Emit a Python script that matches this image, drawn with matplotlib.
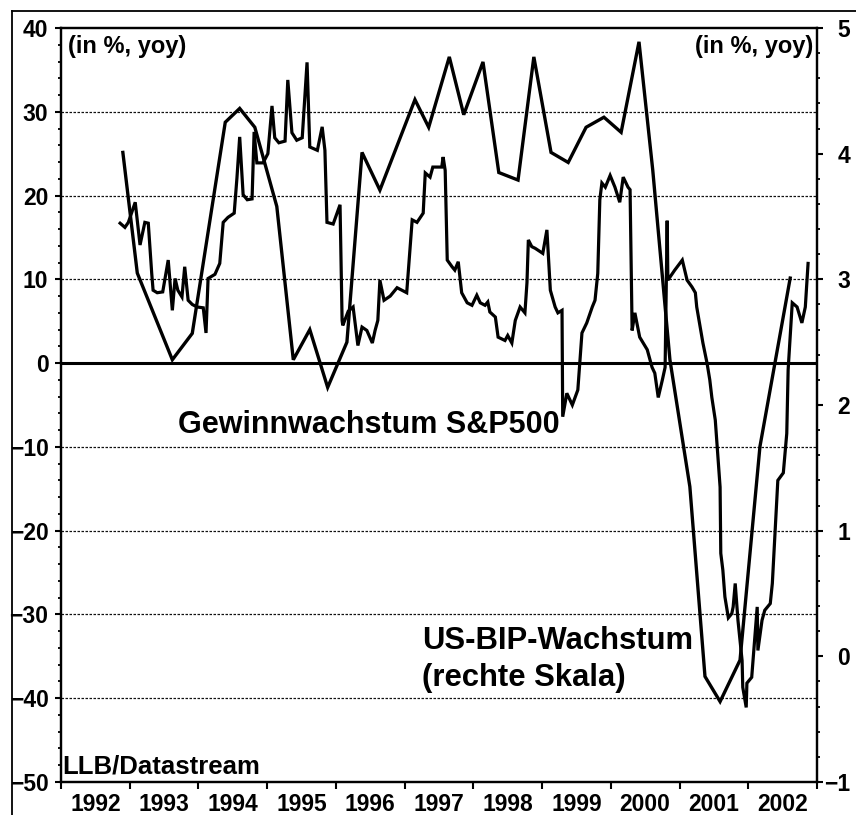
import matplotlib
matplotlib.use('Agg')
import matplotlib.pyplot as plt
from matplotlib.ticker import MultipleLocator, FixedLocator, NullFormatter, FixedFormatter
from matplotlib.lines import Line2D

plt.rcParams['font.family'] = ['Liberation Sans', 'DejaVu Sans']
plt.rcParams['font.weight'] = 'bold'

# S&P500 earnings growth (left scale, % yoy)
sp_years = [1992.86, 1992.93, 1992.98, 1993.08, 1993.15, 1993.22, 1993.27, 1993.32, 1993.34, 1993.40,
            1993.48, 1993.56, 1993.62, 1993.66, 1993.70, 1993.76, 1993.80, 1993.85, 1993.91, 1993.98,
            1994.07, 1994.11, 1994.14, 1994.24, 1994.31, 1994.36, 1994.43, 1994.52, 1994.56, 1994.60,
            1994.65, 1994.71, 1994.78, 1994.81, 1994.85, 1994.94, 1995.01, 1995.07, 1995.11, 1995.17,
            1995.26, 1995.30, 1995.36, 1995.43, 1995.51, 1995.58, 1995.62, 1995.73, 1995.80, 1995.84,
            1995.87, 1995.96, 1996.06, 1996.09, 1996.10, 1996.18, 1996.25, 1996.32, 1996.38, 1996.45,
            1996.53, 1996.57, 1996.61, 1996.64, 1996.70, 1996.79, 1996.89, 1997.03, 1997.11, 1997.18,
            1997.27, 1997.30, 1997.37, 1997.41, 1997.54, 1997.56, 1997.59, 1997.62, 1997.69, 1997.73,
            1997.78, 1997.83, 1997.91, 1997.98, 1998.05, 1998.10, 1998.17, 1998.21, 1998.24, 1998.32,
            1998.36, 1998.46, 1998.50, 1998.56, 1998.61, 1998.68, 1998.75, 1998.78, 1998.80, 1998.85,
            1998.90, 1999.01, 1999.07, 1999.12, 1999.19, 1999.23, 1999.29, 1999.30, 1999.36, 1999.44,
            1999.52, 1999.58, 1999.65, 1999.73, 1999.77, 1999.81, 1999.84, 1999.87, 1999.92, 1999.99,
            2000.06, 2000.13, 2000.18, 2000.25, 2000.28, 2000.31, 2000.35, 2000.42, 2000.53, 2000.60,
            2000.64, 2000.69, 2000.75, 2000.79, 2000.82, 2000.83, 2000.93, 2001.04, 2001.11, 2001.18,
            2001.23, 2001.25, 2001.30, 2001.34, 2001.40, 2001.44, 2001.47, 2001.52, 2001.59, 2001.60,
            2001.63, 2001.66, 2001.71, 2001.76, 2001.78, 2001.81, 2001.85, 2001.91, 2001.92, 2001.97,
            2001.98, 2002.05, 2002.10, 2002.13, 2002.14, 2002.20, 2002.24, 2002.32, 2002.35, 2002.42,
            2002.43, 2002.51, 2002.56, 2002.58, 2002.64, 2002.71, 2002.78, 2002.83, 2002.87]
sp_growth = [16.7, 16.2, 16.8, 19.2, 14.1, 16.8, 16.7, 10.7, 8.7, 8.4,
             8.5, 12.3, 6.3, 10.1, 8.7, 7.9, 11.5, 7.5, 7.0, 6.7,
             6.6, 3.6, 10.1, 10.6, 11.9, 16.8, 17.4, 17.9, 22.1, 27.0,
             20.1, 19.5, 19.6, 27.6, 23.9, 23.9, 25.0, 30.7, 26.9, 26.3,
             26.5, 33.8, 27.5, 26.6, 26.9, 35.9, 25.8, 25.4, 28.2, 25.4,
             16.8, 16.6, 18.9, 5.1, 4.5, 6.2, 6.7, 2.1, 4.3, 3.9,
             2.4, 3.9, 5.1, 9.9, 7.5, 8.0, 9.0, 8.4, 17.1, 16.8,
             17.9, 22.7, 22.2, 23.4, 23.4, 24.6, 23.0, 12.3, 11.5, 11.1,
             12.1, 8.4, 7.2, 6.9, 8.1, 7.2, 6.9, 7.3, 6.1, 5.5,
             3.1, 2.7, 3.3, 2.4, 5.1, 6.7, 6.0, 9.6, 14.7, 13.9,
             13.7, 13.1, 15.9, 8.7, 6.7, 6.0, 6.3, -6.4, -3.6, -5.0,
             -3.2, 3.6, 4.8, 6.7, 7.5, 10.7, 19.5, 21.5, 21.0, 22.4,
             21.0, 19.2, 22.2, 21.0, 20.7, 3.9, 6.0, 3.1, 1.6, -0.5,
             -1.2, -4.1, -2.0, -0.5, 17.0, 9.9, 11.1, 12.3, 9.9, 9.1,
             8.4, 6.7, 4.3, 2.4, 0.0, -2.0, -4.1, -6.8, -14.8, -22.7,
             -24.7, -27.9, -30.4, -29.9, -29.1, -26.3, -30.7, -35.5, -38.7, -41.1,
             -38.2, -37.5, -32.2, -29.1, -34.3, -30.7, -29.5, -28.7, -26.3, -15.5,
             -14.0, -13.1, -8.4, -0.8, 7.2, 6.7, 4.8, 6.7, 11.9]

# US GDP growth (right scale, % yoy)
gdp_years = [1992.90, 1993.11, 1993.62, 1993.91, 1994.39, 1994.60, 1994.82, 1995.14, 1995.38, 1995.62,
             1995.88, 1996.16, 1996.38, 1996.64, 1997.15, 1997.35, 1997.65, 1997.86, 1998.14, 1998.37,
             1998.65, 1998.88, 1999.13, 1999.38, 1999.64, 1999.90, 2000.15, 2000.41, 2000.61, 2000.86,
             2001.15, 2001.37, 2001.59, 2001.88, 2002.17, 2002.61]
gdp_growth = [4.01, 3.05, 2.36, 2.57, 4.25, 4.36, 4.21, 3.58, 2.36, 2.60,
              2.14, 2.50, 4.01, 3.71, 4.43, 4.21, 4.77, 4.31, 4.73, 3.85,
              3.79, 4.77, 4.01, 3.93, 4.21, 4.29, 4.17, 4.89, 3.87, 2.36,
              1.35, -0.16, -0.36, -0.03, 1.67, 3.01]

year_labels = ['1992', '1993', '1994', '1995', '1996', '1997', '1998', '1999', '2000', '2001', '2002']
left_grid = [30, 20, 10, -10, -20, -30, -40]

W, H = 856, 815
fig = plt.figure(figsize=(W / 100, H / 100), dpi=100)
ax = fig.add_axes([61 / W, 1 - 782 / H, 756 / W, 754 / H])
ax2 = ax.twinx()

ax.set_xlim(1992, 2003)
ax.set_ylim(-50, 40)
ax2.set_ylim(-1, 5)

for g in left_grid:
    ax.axhline(g, color='#111111', lw=0.9, ls=(0, (2, 1.2)), zorder=1)
ax.axhline(0, color='black', lw=2.2, zorder=2)

ax.plot(sp_years, sp_growth, color='black', lw=2.3, solid_joinstyle='miter', zorder=3)
ax2.plot(gdp_years, gdp_growth, color='black', lw=2.4, solid_joinstyle='miter', zorder=3)

for a in (ax, ax2):
    for s in a.spines.values():
        s.set_linewidth(1.6)

# x axis: ticks at year boundaries, labels mid-year
ax.xaxis.set_major_locator(FixedLocator(list(range(1992, 2004))))
ax.xaxis.set_major_formatter(NullFormatter())
ax.xaxis.set_minor_locator(FixedLocator([1992.5 + i for i in range(len(year_labels))]))
ax.xaxis.set_minor_formatter(FixedFormatter(year_labels))
ax.tick_params(axis='x', which='major', direction='out', length=5, width=1.5)
ax.tick_params(axis='x', which='minor', length=0, labelsize=16.5, pad=8)

# left y axis
ax.yaxis.set_major_locator(MultipleLocator(10))
ax.yaxis.set_minor_locator(MultipleLocator(2))
ax.tick_params(axis='y', which='major', direction='out', length=4, width=1.5, labelsize=16.5, pad=5)
ax.tick_params(axis='y', which='minor', direction='out', length=2.5, width=1.3)

# right y axis
ax2.set_yticks(list(range(-1, 6)))
ax2.yaxis.set_minor_locator(MultipleLocator(0.2))
ax2.tick_params(axis='y', which='major', direction='out', length=4, width=1.5, labelsize=16.5, pad=20)
ax2.tick_params(axis='y', which='minor', direction='out', length=2.5, width=1.3)
for lab in ax2.get_yticklabels():
    lab.set_horizontalalignment('right')

ax.text(0.0093, 0.975, '(in %, yoy)', transform=ax.transAxes, fontsize=17,
        ha='left', va='center')
ax.text(0.9947, 0.975, '(in %, yoy)', transform=ax.transAxes, fontsize=17,
        ha='right', va='center')
ax.text(0.1548, 0.4735, 'Gewinnwachstum S&P500', transform=ax.transAxes, fontsize=22,
        ha='left', va='center')
ax.text(0.4775, 0.187, 'US-BIP-Wachstum', transform=ax.transAxes, fontsize=22.3,
        ha='left', va='center')
ax.text(0.4775, 0.138, '(rechte Skala)', transform=ax.transAxes, fontsize=22.3,
        ha='left', va='center')
ax.text(0.002, 0.0205, 'LLB/Datastream', transform=ax.transAxes, fontsize=18.5,
        ha='left', va='center')

# outer frame (left and top edges visible)
fig.add_artist(Line2D([12 / W, 12 / W], [0, 1 - 11 / H], transform=fig.transFigure,
                      color='black', lw=1.3))
fig.add_artist(Line2D([12 / W, 1], [1 - 11 / H, 1 - 11 / H], transform=fig.transFigure,
                      color='black', lw=1.3))

fig.savefig('out.png', dpi=100)
